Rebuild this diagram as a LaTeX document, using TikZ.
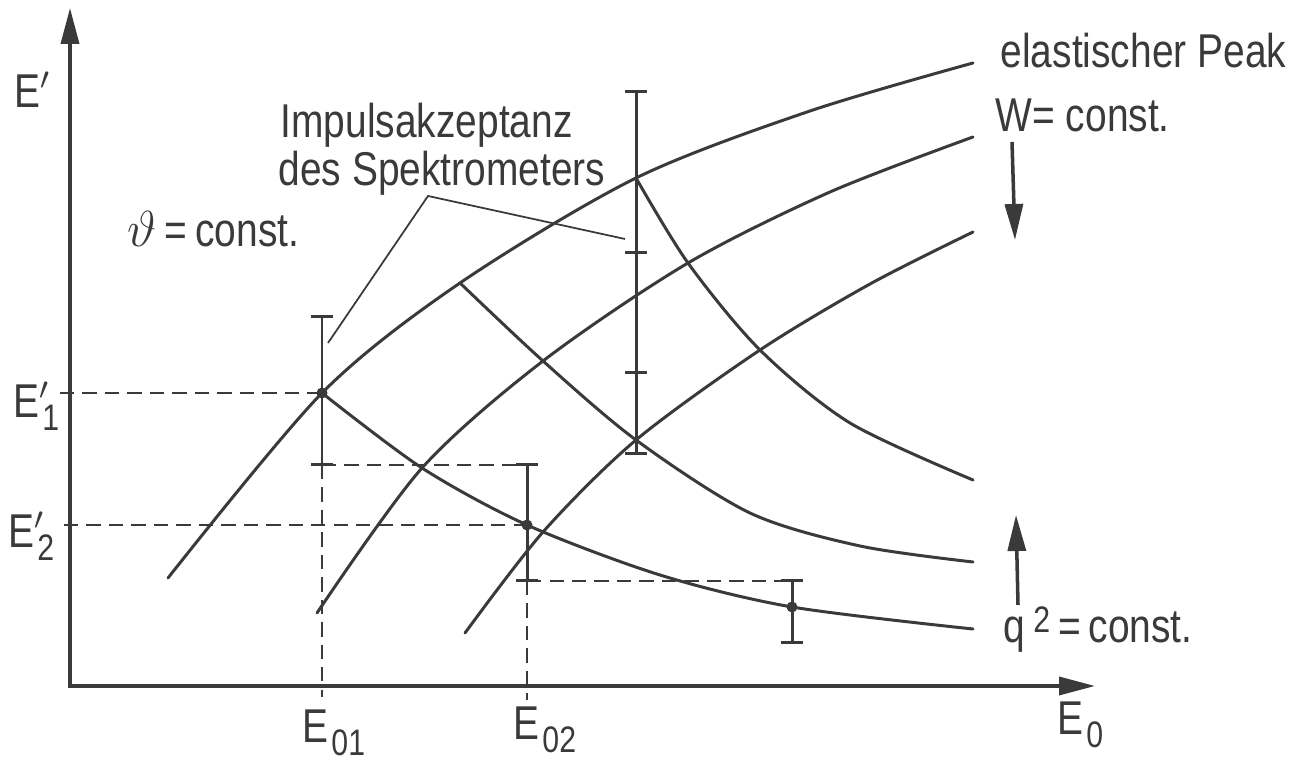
\documentclass[tikz,border=0pt]{standalone}
\usepackage{fontspec}
\setmainfont{Liberation Sans}[FakeStretch=0.82]
\usetikzlibrary{arrows.meta}
\definecolor{ink}{HTML}{3A3A3A}
\newcommand{\lowidx}[1]{\kern0.8pt\raisebox{-3.5pt}{\fontsize{10.5}{12}\selectfont #1}}
\newcommand{\highidx}[1]{\raisebox{3pt}{\fontsize{10.5}{12}\selectfont #1}}

\begin{document}
\begin{tikzpicture}[x=1cm,y=1cm,
  curve/.style={draw=ink, line width=0.85pt, line cap=round},
  axisline/.style={draw=ink, line width=1pt, {Triangle[length=3.6mm,width=1.8mm]}-{Triangle[length=3.6mm,width=1.8mm]}},
  pointer/.style={draw=ink, line width=1pt, -{Triangle[length=3.6mm,width=1.8mm]}},
  errbar/.style={draw=ink, line width=0.85pt},
  guide/.style={draw=ink, line width=0.55pt, dash pattern=on 4pt off 2.4pt},
  leader/.style={draw=ink, line width=0.5pt},
  lbl/.style={inner sep=0pt, anchor=base west, text=ink, font=\fontsize{13.5}{16}\selectfont},
  dot/.style={circle, fill=ink, inner sep=0pt, minimum size=1.1mm}]
\useasboundingbox (0,0) rectangle (13.11,7.60);

% axes
\coordinate (O) at (0.70,0.74);
\coordinate (ytip) at (0.70,7.52);
\coordinate (xtip) at (10.95,0.74);
\draw[axisline] (ytip) -- (O) -- (xtip);

% grid points
\coordinate (P11) at (3.22,3.67);
\coordinate (P12) at (4.60,4.77);
\coordinate (P13) at (6.36,5.82);
\coordinate (P21) at (4.22,2.92);
\coordinate (P22) at (5.43,3.99);
\coordinate (P23) at (6.88,4.97);
\coordinate (P31) at (5.43,2.28);
\coordinate (P32) at (6.36,3.20);
\coordinate (P33) at (7.60,4.10);
\coordinate (Q2) at (5.27,2.35);
\coordinate (Q3) at (7.92,1.53);

% theta = const
\draw[curve] plot[smooth] coordinates {(1.68,1.82) (P11) (P12) (P13) (8.10,6.49) (9.73,6.97)};
\draw[curve] plot[smooth] coordinates {(3.17,1.47) (P21) (P22) (P23) (8.30,5.68) (9.73,6.23)};
\draw[curve] plot[smooth] coordinates {(4.65,1.27) (P31) (P32) (P33) (8.70,4.76) (9.73,5.28)};

% q^2 = const
\draw[curve] plot[smooth] coordinates {(P11) (P21) (Q2) (6.60,1.85) (Q3) (9.73,1.31)};
\draw[curve] plot[smooth] coordinates {(P12) (P22) (P32) (7.50,2.47) (8.60,2.14) (9.73,1.98)};
\draw[curve] plot[smooth] coordinates {(P13) (P23) (P33) (8.50,3.37) (9.73,2.80)};

% error bars
\coordinate (b1t) at (3.22,4.43);
\coordinate (b1b) at (3.22,2.95);
\coordinate (b2t) at (5.27,2.95);
\coordinate (b2b) at (5.27,1.79);
\coordinate (b3t) at (7.92,1.79);
\coordinate (b3b) at (7.92,1.17);
\coordinate (b4t) at (6.36,6.68);
\coordinate (b4b) at (6.36,3.06);
\coordinate (k1) at (6.36,5.07);
\coordinate (k2) at (6.36,3.87);
\draw[errbar] (b1t) -- (b1b);
\draw[errbar] (b2t) -- (b2b);
\draw[errbar] (b3t) -- (b3b);
\draw[errbar] (b4t) -- (b4b);
\foreach \c in {b1t,b1b,b2t,b2b,b3t,b3b,b4t,b4b,k1,k2}
  \draw[errbar] ([xshift=-1.1mm]\c) -- ([xshift=1.1mm]\c);
\node[dot] (d1) at (P11) {};
\node[dot] (d2) at (Q2) {};
\node[dot] (d3) at (Q3) {};

% dashed guides
\coordinate (e1) at (0.60,3.67);
\coordinate (e2) at (0.64,2.35);
\coordinate (e01) at (3.22,0.63);
\coordinate (e02) at (5.27,0.60);
\draw[guide] (e1) -- (P11);
\draw[guide] (e2) -- (Q2);
\draw[guide] (b1b) -- (b2t);
\draw[guide] (b2b) -- (b3t);
\draw[guide] (b1b) -- (e01);
\draw[guide] (b2b) -- (e02);

% leaders
\coordinate (J) at (4.28,5.64);
\coordinate (L1) at (3.28,4.17);
\coordinate (L2) at (6.25,5.21);
\draw[leader] (L1) -- (J) -- (L2);

% shift arrows
\coordinate (wa) at (10.12,6.18);
\coordinate (wb) at (10.15,5.20);
\coordinate (qa) at (10.18,1.55);
\coordinate (qb) at (10.16,2.45);
\draw[pointer] (wa) -- (wb);
\draw[pointer] (qa) -- (qb);

% labels
\node[lbl] (yl) at (0.14,6.52) {E$'$};
\node[lbl] (imp1) at (2.80,6.22) {Impulsakzeptanz};
\node[lbl] (imp2) at (2.78,5.74) {des Spektrometers};
\node[lbl] (theta) at (1.27,5.13) {$\vartheta$\,=\,const.};
\node[lbl] (peak) at (10.00,6.92) {elastischer Peak};
\node[lbl] (wconst) at (9.95,6.28) {W= const.};
\node[lbl] (qconst) at (10.03,1.17) {q\,\highidx{2}\,=\,const.};
\node[lbl] (e0l) at (10.57,0.25) {E\lowidx{0}};
\node[lbl] (e01l) at (3.02,0.17) {E\lowidx{01}};
\node[lbl] (e02l) at (5.13,0.20) {E\lowidx{02}};
\node[lbl] (e1l) at (0.13,3.42) {E\rlap{$'$}\lowidx{1}};
\node[lbl] (e2l) at (0.08,2.12) {E\rlap{$'$}\lowidx{2}};
\end{tikzpicture}
\end{document}
